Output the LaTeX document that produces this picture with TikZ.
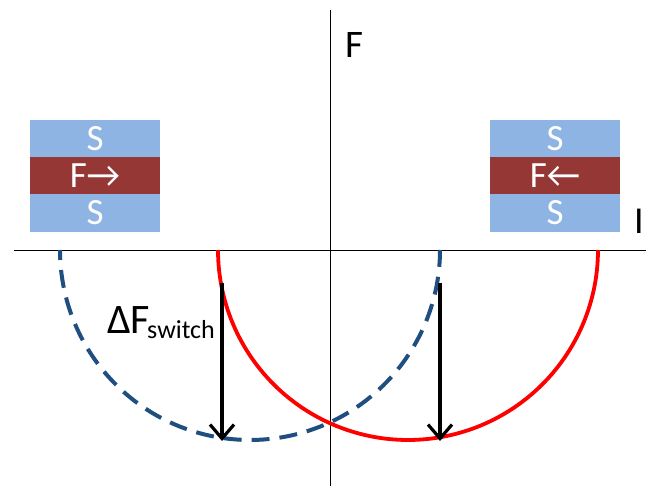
\documentclass[tikz,border=0pt]{standalone}
\usepackage{fontspec}
\setmainfont{Carlito}
\usetikzlibrary{arrows.meta}
\definecolor{lblue}{HTML}{8EB4E3}
\definecolor{dred}{HTML}{953735}
\definecolor{dblue}{HTML}{1F4E80}
\begin{document}
\begin{tikzpicture}[x=1pt,y=-1pt,
  layer/.style={minimum width=130pt,minimum height=37.5pt,inner sep=0pt,text=white,font=\fontsize{37}{37}\selectfont},
  sl/.style={layer,fill=lblue},
  fl/.style={layer,fill=dred},
  axis/.style={draw=black,line width=0.9pt},
  jump/.style={draw=black,line width=3.4pt,-{Straight Barb[length=14pt,width=24pt,line width=3.2pt]}},
  lbl/.style={inner sep=0pt,anchor=base west}]
\useasboundingbox (0,0) rectangle (646,486);
% axes
\coordinate (xl) at (14,250);
\coordinate (xr) at (646,250);
\coordinate (yt) at (330,10);
\coordinate (yb) at (330,486);
\draw[axis] (xl) -- (xr);
\draw[axis] (yt) -- (yb);
\node[lbl,font=\fontsize{39}{39}\selectfont] (Flab) at (345,58) {F};
\node[lbl,font=\fontsize{38}{38}\selectfont] (Ilab) at (634,234) {I};
% left stack
\node[sl] (LS1) at (95,139) {S};
\node[fl] (LF) at (95,176) {F→};
\node[sl] (LS2) at (95,213) {S};
% right stack
\node[sl] (RS1) at (555,139) {S};
\node[fl] (RF) at (555,176) {F←};
\node[sl] (RS2) at (555,213) {S};
% curves
\draw[dblue,line width=4pt,dash pattern=on 18pt off 10pt,dash phase=8pt]
  plot[domain=180:0,samples=120] ({250+190*cos(\x)},{250+190*sin(\x)});
\draw[red,line width=3.8pt]
  plot[domain=180:0,samples=120] ({408+190*cos(\x)},{250+190*sin(\x)});
% arrows
\coordinate (a1s) at (222,283);
\coordinate (a1e) at (222,441);
\coordinate (a2s) at (440,283);
\coordinate (a2e) at (440,441);
\draw[jump] (a1s) -- (a1e);
\draw[jump] (a2s) -- (a2e);
% label
\node[lbl,font=\fontsize{42}{42}\selectfont] (dF) at (107,334) {ΔF};
\node[lbl,font=\fontsize{26}{26}\selectfont] (sw) at (147,339) {switch};
\end{tikzpicture}
\end{document}
